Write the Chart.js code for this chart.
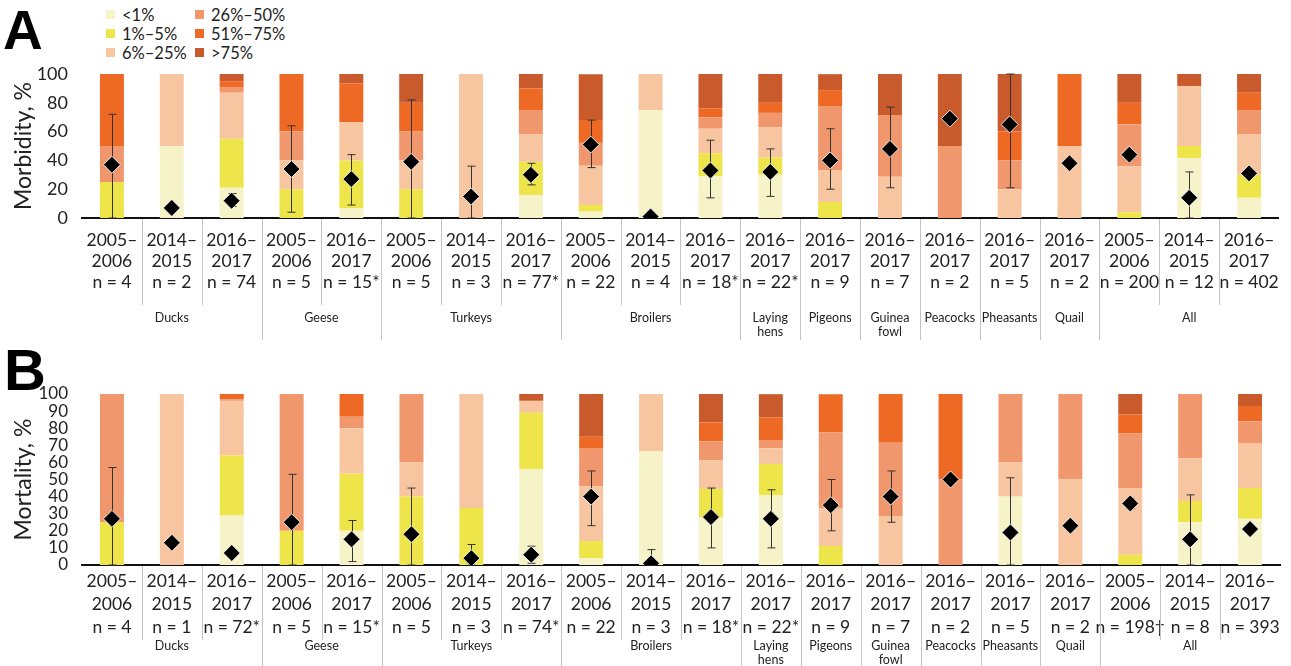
<!DOCTYPE html>
<html>
<head>
<meta charset="utf-8">
<script src="https://cdn.jsdelivr.net/npm/chart.js@4.4.1/dist/chart.umd.min.js"></script>
<style>
  body { margin: 0; background: #fff; width: 1291px; height: 666px; overflow: hidden; position: relative; font-family: Lato, sans-serif; }
  .panel { position: absolute; left: 0; }
  .letter { position: absolute; font-family: "Liberation Sans", Arial, sans-serif; font-weight: bold; color: #000; }
  #legend { position: absolute; left: 106px; top: 5px; display: grid; grid-template-columns: 89px 110px; grid-auto-flow: column; grid-template-rows: repeat(3, 19px); font-size: 16.5px; color: #222; }
  #legend div { display: flex; align-items: center; white-space: nowrap; }
  #legend span { display: inline-block; width: 9px; height: 9px; margin-right: 7px; }
</style>
</head>
<body>
<div class="letter" style="left:3px;top:3px;font-size:55px;line-height:55px">A</div>
<div class="letter" style="left:4px;top:341px;font-size:58px;line-height:58px">B</div>
<div id="legend"></div>
<div class="panel" style="top:0"><canvas id="chartA" width="1291" height="340"></canvas></div>
<div class="panel" style="top:335px"><canvas id="chartB" width="1291" height="331"></canvas></div>

<script>
// categories
const periods = ['2005–2006','2014–2015','2016–2017','2005–2006','2016–2017','2005–2006','2014–2015','2016–2017',
  '2005–2006','2014–2015','2016–2017','2016–2017','2016–2017','2016–2017','2016–2017','2016–2017','2016–2017',
  '2005–2006','2014–2015','2016–2017'];
const nMorbidity = ['n = 4','n = 2','n = 74','n = 5','n = 15*','n = 5','n = 3','n = 77*','n = 22','n = 4','n = 18*',
  'n = 22*','n = 9','n = 7','n = 2','n = 5','n = 2','n = 200','n = 12','n = 402'];
const nMortality = ['n = 4','n = 1','n = 72*','n = 5','n = 15*','n = 5','n = 3','n = 74*','n = 22','n = 3','n = 18*',
  'n = 22*','n = 9','n = 7','n = 2','n = 5','n = 2','n = 198†','n = 8','n = 393'];
const groups = [['Ducks', 3], ['Geese', 2], ['Turkeys', 3], ['Broilers', 3], ['Laying\nhens', 1], ['Pigeons', 1],
  ['Guinea\nfowl', 1], ['Peacocks', 1], ['Pheasants', 1], ['Quail', 1], ['All', 3]];
const seriesNames = ['<1%', '1%–5%', '6%–25%', '26%–50%', '51%–75%', '>75%'];
const seriesColors = ['#f7f3c9', '#eee54a', '#f7c6a0', '#f1976e', '#ee6923', '#c95a2c'];

// panel A, morbidity (% of outbreaks in each class)
const morbLt1    = [0, 50, 21, 0, 6.7, 0, 0, 16, 4.5, 75, 29, 30, 0, 0, 0, 0, 0, 0, 41.7, 14];
const morb1to5   = [25, 0, 34, 20, 33.3, 20, 0, 23, 4.5, 0, 16, 12, 11.1, 0, 0, 0, 0, 4, 8.3, 16];
const morb6to25  = [0, 50, 32, 20, 26.7, 20, 100, 19, 27.3, 25, 17, 21, 22.2, 28.6, 0, 20, 50, 32, 41.7, 28];
const morb26to50 = [25, 0, 4, 20, 0, 20, 0, 17, 15.9, 0, 8, 10, 44.4, 42.9, 50, 20, 0, 29, 0, 17];
const morb51to75 = [50, 0, 4, 40, 26.7, 20, 0, 15, 15.9, 0, 6, 7, 11.1, 0, 0, 20, 50, 15, 0, 12];
const morbGt75   = [0, 0, 5, 0, 6.7, 20, 0, 10, 31.8, 0, 24, 20, 11.1, 28.6, 50, 40, 0, 20, 8.3, 13];
const morbMean   = [37, 7, 12, 34, 27, 39, 15, 30, 51, 1, 33, 32, 40, 48, 69, 65, 38, 44, 14, 31];
const morbLow    = [0, null, 8, 4, 9, 0, 0, 23, 35, null, 14, 15, 20, 21, null, 21, null, 41, 0, 29];
const morbHigh   = [72, null, 17, 64, 44, 82, 36, 38, 68, null, 54, 48, 62, 77, null, 100, null, 47, 32, 33];

// panel B, mortality
const mortLt1    = [0, 0, 29, 0, 20, 0, 0, 56, 4, 66.7, 27.8, 40.9, 0, 0, 0, 40, 0, 0, 25, 27];
const mort1to5   = [25, 0, 35, 20, 33.3, 40, 33.3, 33, 10, 0, 16.7, 18.2, 11.1, 0, 0, 0, 0, 6, 12.5, 18];
const mort6to25  = [0, 100, 32, 0, 26.7, 20, 66.7, 7, 32, 33.3, 16.7, 9.1, 22.2, 28.6, 0, 20, 50, 39, 25, 26];
const mort26to50 = [75, 0, 1, 80, 6.7, 40, 0, 0, 22, 0, 11.1, 4.5, 44.4, 42.9, 50, 40, 50, 32, 37.5, 13];
const mort51to75 = [0, 0, 3, 0, 13.3, 0, 0, 0, 7, 0, 11.1, 13.6, 22.2, 28.6, 50, 0, 0, 11, 0, 9];
const mortGt75   = [0, 0, 0, 0, 0, 0, 0, 4, 25, 0, 16.7, 13.6, 0, 0, 0, 0, 0, 12, 0, 7];
const mortMean   = [27, 13, 7, 25, 15, 18, 4, 6, 40, 1, 28, 27, 35, 40, 50, 19, 23, 36, 15, 21];
const mortLow    = [0, null, 5, 0, 2, 0, 0, 1, 23, 0, 10, 10, 20, 25, null, 0, null, 33, 0, 19];
const mortHigh   = [57, null, 9, 53, 26, 45, 12, 11, 55, 9, 45, 44, 50, 55, null, 51, null, 39, 41, 23];

// legend
const legendEl = document.getElementById('legend');
seriesNames.forEach((name, i) => {
  const d = document.createElement('div');
  d.innerHTML = '<span style="background:' + seriesColors[i] + '"></span>';
  d.appendChild(document.createTextNode(name));
  legendEl.appendChild(d);
});

// error bars, drawn just before the diamonds
function errorBars(lo, hi) {
  return {
    id: 'errbars',
    beforeDatasetDraw(chart, args) {
      if (args.index !== 6) return;
      const { ctx } = chart;
      const x = chart.scales.x, y = chart.scales.y;
      ctx.save();
      ctx.strokeStyle = '#333';
      ctx.lineWidth = 1;
      lo.forEach((l, i) => {
        if (l == null) return;
        const px = Math.round(x.getPixelForValue(i)) + 0.5;
        const y0 = y.getPixelForValue(l), y1 = y.getPixelForValue(hi[i]);
        ctx.beginPath();
        ctx.moveTo(px, y1); ctx.lineTo(px, y0);
        ctx.moveTo(px - 4, y1); ctx.lineTo(px + 4, y1);
        ctx.moveTo(px - 4, y0); ctx.lineTo(px + 4, y0);
        ctx.stroke();
      });
      ctx.restore();
    }
  };
}

// separators and the bird group names under the axis
function groupLabels(innerBottom, outerBottom, labelY) {
  return {
    id: 'groups',
    afterDraw(chart) {
      const { ctx, chartArea } = chart;
      const x = chart.scales.x;
      const half = (x.getPixelForValue(1) - x.getPixelForValue(0)) / 2;
      const top = chartArea.bottom + 1;
      const bounds = new Set();
      let k = 0;
      groups.forEach(g => { k += g[1]; bounds.add(k); });
      ctx.save();
      ctx.strokeStyle = '#c4c4c4';
      ctx.lineWidth = 1;
      for (let i = 1; i < periods.length; i++) {
        const px = Math.round(x.getPixelForValue(i) - half) + 0.5;
        ctx.beginPath();
        ctx.moveTo(px, top);
        ctx.lineTo(px, bounds.has(i) ? outerBottom : innerBottom);
        ctx.stroke();
      }
      ctx.fillStyle = '#222';
      ctx.font = '12.5px Lato';
      ctx.textAlign = 'center';
      ctx.textBaseline = 'middle';
      let start = 0;
      groups.forEach(([name, count]) => {
        const cx = (x.getPixelForValue(start) + x.getPixelForValue(start + count - 1)) / 2;
        name.split('\n').forEach((line, j) => ctx.fillText(line, cx, labelY + j * 14));
        start += count;
      });
      ctx.restore();
    }
  };
}

function makeChart(id, cfg) {
  const labels = periods.map((p, i) => [p.slice(0, 5), p.slice(5), cfg.n[i]]);
  const datasets = cfg.series.map((data, i) => ({
    label: seriesNames[i],
    data: data,
    backgroundColor: seriesColors[i],
    borderWidth: 0,
    categoryPercentage: 1,
    barPercentage: 0.4,
    order: 1
  }));
  datasets.push({
    type: 'line',
    label: 'Mean',
    data: cfg.mean,
    showLine: false,
    pointStyle: 'rectRot',
    pointRadius: 8.5,
    pointBackgroundColor: '#000',
    pointBorderColor: 'rgba(255,255,255,0.85)',
    pointBorderWidth: 1,
    order: 0
  });

  return new Chart(document.getElementById(id), {
    type: 'bar',
    data: { labels, datasets },
    options: {
      responsive: false,
      animation: false,
      layout: { padding: { top: cfg.top, right: 11, left: 0, bottom: 0 } },
      plugins: { legend: { display: false }, tooltip: { enabled: false } },
      scales: {
        x: {
          stacked: true,
          grid: { display: false, drawTicks: false },
          border: { display: true, color: '#111', width: 2 },
          ticks: { autoSkip: false, maxRotation: 0, padding: cfg.tickPad, color: '#222',
                   font: { family: 'Lato', size: 17.5, lineHeight: cfg.lineH } },
          afterFit(s) { s.height = cfg.xHeight; }
        },
        y: {
          stacked: true,
          min: 0,
          max: 100,
          grid: { display: false },
          border: { display: false },
          ticks: { stepSize: cfg.step, autoSkip: false, padding: 6, color: '#222', font: { family: 'Lato', size: cfg.yFont } },
          title: { display: true, text: cfg.title, color: '#222', font: { family: 'Lato', size: 23 }, padding: { top: 10 } },
          afterFit(s) { s.width = 82; }
        }
      }
    },
    plugins: [errorBars(cfg.lo, cfg.hi), groupLabels(cfg.innerBottom, cfg.outerBottom, cfg.labelY)]
  });
}

makeChart('chartA', {
  series: [morbLt1, morb1to5, morb6to25, morb26to50, morb51to75, morbGt75],
  mean: morbMean, lo: morbLow, hi: morbHigh, n: nMorbidity,
  title: 'Morbidity, %', step: 20, yFont: 18,
  top: 74, xHeight: 122, tickPad: 12, lineH: 1.2,
  innerBottom: 305, outerBottom: 340, labelY: 318
});

makeChart('chartB', {
  series: [mortLt1, mort1to5, mort6to25, mort26to50, mort51to75, mortGt75],
  mean: mortMean, lo: mortLow, hi: mortHigh, n: nMortality,
  title: 'Mortality, %', step: 10, yFont: 17,
  top: 59, xHeight: 101, tickPad: 5, lineH: 1.3,
  innerBottom: 305, outerBottom: 331, labelY: 311
});
</script>
</body>
</html>
